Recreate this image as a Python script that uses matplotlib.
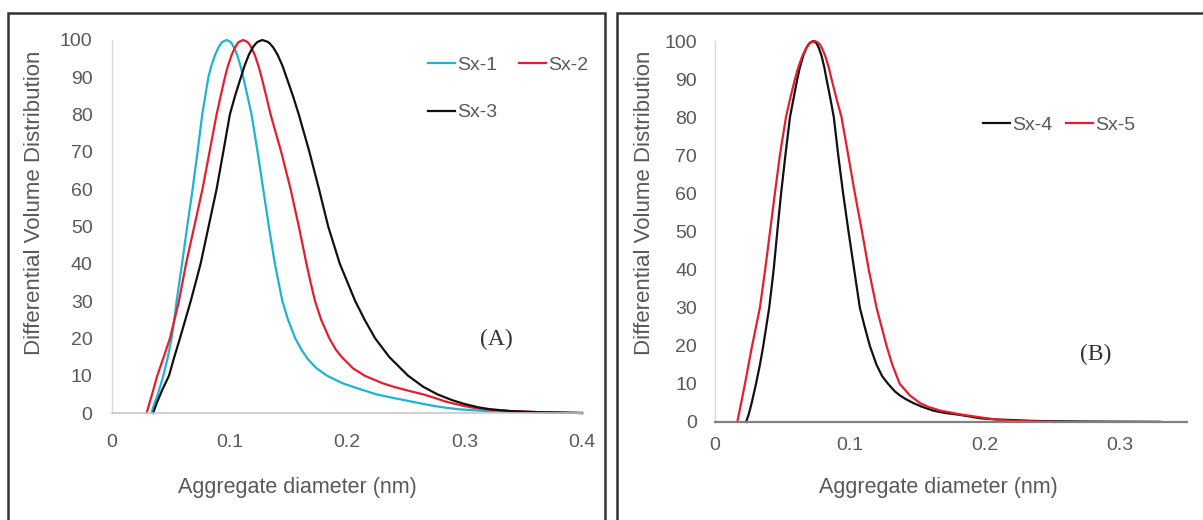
import matplotlib
matplotlib.use("Agg")
import matplotlib.pyplot as plt
from matplotlib.patches import Rectangle

# ---- Panel A: aggregate size distributions for Sx-1, Sx-2, Sx-3 ----
sx1_d = [0.0337, 0.0355, 0.0390, 0.0437, 0.0475, 0.0507, 0.0530, 0.0550, 0.0596, 0.0640,
         0.0686, 0.0728, 0.0768, 0.0794, 0.0820, 0.0845, 0.0877, 0.0906, 0.0926, 0.0940,
         0.0975, 0.1007, 0.1020, 0.1038, 0.1065, 0.1094, 0.1117, 0.1153, 0.1188, 0.1239,
         0.1287, 0.1335, 0.1386, 0.1450, 0.1498, 0.1560, 0.1612, 0.1665, 0.1740, 0.1830,
         0.1960, 0.2100, 0.2250, 0.2400, 0.2560, 0.2720, 0.2820, 0.2950, 0.3150, 0.3400,
         0.3700, 0.4000]
sx1_v = [0, 2, 5, 10, 15, 20, 25, 30, 40, 50,
         60, 70, 80, 85, 90, 93, 96, 98, 99, 99.5,
         100, 99.5, 99, 98, 96, 93, 90, 85, 80, 70,
         60, 50, 40, 30, 25, 20, 17, 14.5, 12, 10,
         8, 6.5, 5, 4, 3, 2, 1.5, 1, 0.6, 0.3,
         0.1, 0]

sx2_d = [0.0295, 0.0322, 0.0350, 0.0385, 0.0440, 0.0493, 0.0570, 0.0630, 0.0700, 0.0770,
         0.0830, 0.0890, 0.0925, 0.0961, 0.0986, 0.1018, 0.1047, 0.1067, 0.1081, 0.1116,
         0.1151, 0.1166, 0.1186, 0.1215, 0.1247, 0.1273, 0.1312, 0.1350, 0.1440, 0.1520,
         0.1590, 0.1655, 0.1690, 0.1728, 0.1780, 0.1850, 0.1905, 0.1955, 0.2050, 0.2150,
         0.2300, 0.2400, 0.2520, 0.2647, 0.2750, 0.2846, 0.2980, 0.3060, 0.3180, 0.3400,
         0.3650, 0.4000]
sx2_v = [0, 3, 6, 10, 15, 20, 30, 40, 50, 60,
         70, 80, 85, 90, 93, 96, 98, 99, 99.5, 100,
         99.5, 99, 98, 96, 93, 90, 85, 80, 70, 60,
         50, 40, 35, 30, 25, 20, 17, 15, 12, 10,
         8, 7, 6, 5, 4, 3, 2, 1.5, 1, 0.5,
         0.2, 0]

sx3_d = [0.0350, 0.0385, 0.0425, 0.0485, 0.0530, 0.0578, 0.0670, 0.0754, 0.0822, 0.0890,
         0.0947, 0.1003, 0.1047, 0.1097, 0.1127, 0.1164, 0.1198, 0.1222, 0.1239, 0.1280,
         0.1326, 0.1345, 0.1372, 0.1410, 0.1452, 0.1485, 0.1540, 0.1590, 0.1680, 0.1762,
         0.1840, 0.1939, 0.2070, 0.2150, 0.2240, 0.2360, 0.2520, 0.2650, 0.2770, 0.2890,
         0.2990, 0.3120, 0.3220, 0.3400, 0.3650, 0.4000]
sx3_v = [0, 3, 6, 10, 15, 20, 30, 40, 50, 60,
         70, 80, 85, 90, 93, 96, 98, 99, 99.5, 100,
         99.5, 99, 98, 96, 93, 90, 85, 80, 70, 60,
         50, 40, 30, 25, 20, 15, 10, 7, 5, 3.5,
         2.5, 1.5, 1, 0.5, 0.2, 0]

# ---- Panel B: aggregate size distributions for Sx-4, Sx-5 ----
sx4_d = [0.0230, 0.0250, 0.0272, 0.0304, 0.0333, 0.0358, 0.0402, 0.0435, 0.0462, 0.0490,
         0.0522, 0.0556, 0.0583, 0.0610, 0.0629, 0.0653, 0.0675, 0.0691, 0.0702, 0.0728,
         0.0750, 0.0759, 0.0772, 0.0791, 0.0811, 0.0827, 0.0855, 0.0881, 0.0914, 0.0950,
         0.0990, 0.1032, 0.1074, 0.1110, 0.1148, 0.1198, 0.1240, 0.1284, 0.1335, 0.1370,
         0.1415, 0.1469, 0.1535, 0.1617, 0.1700, 0.1790, 0.1880, 0.1960, 0.2070, 0.2210,
         0.2350, 0.2500, 0.2900, 0.3300]
sx4_v = [0, 2, 5, 10, 15, 20, 30, 40, 50, 60,
         70, 80, 85, 90, 93, 96, 98, 99, 99.5, 100,
         99.5, 99, 98, 96, 93, 90, 85, 80, 70, 60,
         50, 40, 30, 25, 20, 15, 12, 10, 8, 7,
         6, 5, 4, 3, 2.4, 2, 1.5, 1, 0.7, 0.5,
         0.3, 0.2, 0.1, 0.05]

sx5_d = [0.0165, 0.0194, 0.0222, 0.0275, 0.0333, 0.0372, 0.0408, 0.0444, 0.0481, 0.0526,
         0.0558, 0.0593, 0.0617, 0.0647, 0.0674, 0.0694, 0.0707, 0.0740, 0.0768, 0.0779,
         0.0795, 0.0818, 0.0844, 0.0864, 0.0900, 0.0938, 0.0988, 0.1037, 0.1090, 0.1140,
         0.1198, 0.1272, 0.1315, 0.1370, 0.1444, 0.1519, 0.1580, 0.1670, 0.1820, 0.2010,
         0.2120, 0.2200, 0.2525]
sx5_v = [0, 5, 10, 20, 30, 40, 50, 60, 70, 80,
         85, 90, 93, 96, 98, 99, 99.5, 100, 99.5, 99,
         98, 96, 93, 90, 85, 80, 70, 60, 50, 40,
         30, 20, 15, 10, 7, 5, 4, 3, 2, 1,
         0.5, 0.3, 0]

y_ticks = [0, 10, 20, 30, 40, 50, 60, 70, 80, 90, 100]
x_ticks_a = [0, 0.1, 0.2, 0.3, 0.4]
x_ticks_b = [0, 0.1, 0.2, 0.3]

CYAN = "#1fb3d1"
RED = "#e41f2d"
BLACK = "#111111"
GREY_TXT = "#595959"

plt.rcParams["font.family"] = ["Liberation Sans", "DejaVu Sans"]

W, H = 1203, 520
fig = plt.figure(figsize=(W / 100, H / 100), dpi=100)
fig.patch.set_facecolor("white")

# framed boxes around each panel
fig.add_artist(Rectangle((8 / W, -0.2), (605 - 8) / W, (520 - 13) / H + 0.2,
                         transform=fig.transFigure, fill=False,
                         edgecolor="#333333", lw=1.8))
fig.add_artist(Rectangle((617 / W, -0.2), 0.5, (520 - 13) / H + 0.2,
                         transform=fig.transFigure, fill=False,
                         edgecolor="#333333", lw=1.8))

axA = fig.add_axes([112 / W, (H - 413) / H, 470 / W, 373 / H])
axB = fig.add_axes([715 / W, (H - 422) / H, 472 / W, 381 / H])


def style(ax, xmax, xticks, bottom_color, bottom_lw, ypad, xpad):
    ax.set_xlim(0, xmax)
    ax.set_ylim(0, 100)
    ax.set_yticks(y_ticks)
    ax.set_yticklabels([str(v) for v in y_ticks])
    ax.set_xticks(xticks)
    ax.set_xticklabels([("%g" % v) for v in xticks])
    ax.tick_params(axis="both", length=0, labelsize=14, labelcolor=GREY_TXT)
    ax.tick_params(axis="y", pad=ypad)
    ax.tick_params(axis="x", pad=xpad)
    for s in ("top", "right"):
        ax.spines[s].set_visible(False)
    ax.spines["left"].set_color("#d9d9d9")
    ax.spines["left"].set_linewidth(1.0)
    ax.spines["bottom"].set_color(bottom_color)
    ax.spines["bottom"].set_linewidth(bottom_lw)
    ax.set_facecolor("none")


style(axA, 0.4, x_ticks_a, "#c8c8c8", 1.2, 14, 15)
style(axB, 0.35, x_ticks_b, "#808080", 1.6, 13, 11)

lw = 1.6
l1, = axA.plot(sx1_d, sx1_v, color=CYAN, lw=lw, label="Sx-1", clip_on=False)
l2, = axA.plot(sx2_d, sx2_v, color=RED, lw=lw, label="Sx-2", clip_on=False)
l3, = axA.plot(sx3_d, sx3_v, color=BLACK, lw=lw, label="Sx-3", clip_on=False)

axB.plot(sx4_d, sx4_v, color=BLACK, lw=lw, label="Sx-4", clip_on=False)
axB.plot(sx5_d, sx5_v, color=RED, lw=lw, label="Sx-5", clip_on=False)

leg_kw = dict(frameon=False, fontsize=14, handlelength=1.4, handletextpad=0.1,
              borderpad=0, borderaxespad=0, labelcolor=GREY_TXT)
# two columns filled column-wise: Sx-1 / Sx-3 in the first, Sx-2 in the second
axA.legend([l1, l3, l2], ["Sx-1", "Sx-3", "Sx-2"], loc="upper left",
           bbox_to_anchor=(0.672, 0.957), ncol=2,
           columnspacing=1.1, labelspacing=1.55, **leg_kw)
axB.legend(loc="upper left", bbox_to_anchor=(0.568, 0.803), ncol=2,
           columnspacing=0.7, **leg_kw)

axA.text(0.817, 0.196, "(A)", transform=axA.transAxes, ha="center", va="center",
         fontsize=17, family=["Liberation Serif", "DejaVu Serif"], color="#333333")
axB.text(0.807, 0.176, "(B)", transform=axB.transAxes, ha="center", va="center",
         fontsize=17, family=["Liberation Serif", "DejaVu Serif"], color="#333333")

ylab = "Differential Volume Distribution"
xlab = "Aggregate diameter (nm)"
fig.text(35 / W, 1 - 203 / H, ylab, rotation=90, ha="center", va="center",
         fontsize=16, color=GREY_TXT)
fig.text(644 / W, 1 - 203 / H, ylab, rotation=90, ha="center", va="center",
         fontsize=16, color=GREY_TXT)
fig.text(297 / W, 1 - 488 / H, xlab, ha="center", va="center",
         fontsize=15.5, color=GREY_TXT)
fig.text(938 / W, 1 - 487 / H, xlab, ha="center", va="center",
         fontsize=15.5, color=GREY_TXT)

fig.savefig("out.png", dpi=100, facecolor="white")
